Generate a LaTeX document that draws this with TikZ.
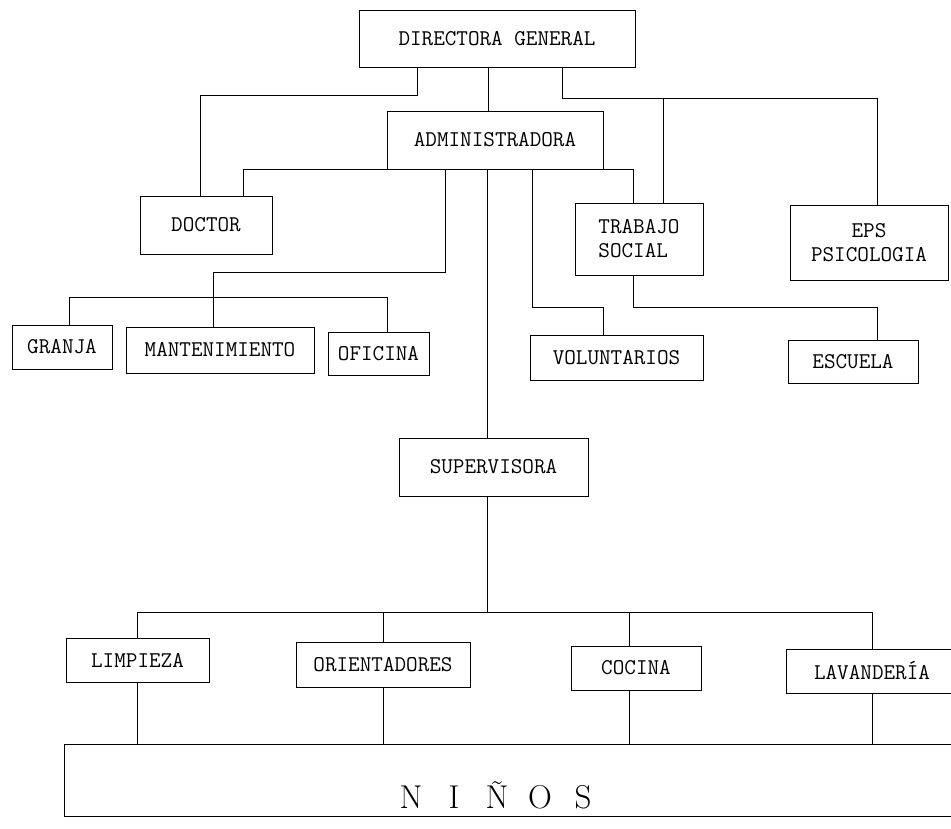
\documentclass[tikz,border=0pt]{standalone}
\newcommand{\boxfont}{\fontsize{22.5}{24}\selectfont\ttfamily}
\newcommand{\ninosfont}{\fontsize{33}{36}\selectfont}
\tikzset{
  box/.style={draw, line width=0.8pt, inner sep=0pt, font=\boxfont, align=center},
  link/.style={draw, line width=0.8pt},
}
\begin{document}
\begin{tikzpicture}[x=1pt, y=-1pt]
\useasboundingbox (0,0) rectangle (951,829);
\clip (0,0) rectangle (951,829);
\node (dir) at (497,38.5) [box, minimum width=276pt, minimum height=57pt] {DIRECTORA GENERAL};
\node (adm) at (495,140) [box, minimum width=216pt, minimum height=58pt] {ADMINISTRADORA};
\node (doc) at (206,225) [box, minimum width=132pt, minimum height=58pt] {DOCTOR};
\node (trab) at (639,239) [box, minimum width=128pt, minimum height=72pt, align=left] {TRABAJO\\SOCIAL};
\node (eps) at (869,242.5) [box, minimum width=158pt, minimum height=75pt] {EPS\\PSICOLOGIA};
\node (gra) at (62,347) [box, minimum width=100pt, minimum height=44pt] {GRANJA};
\node (mant) at (220,350) [box, minimum width=188pt, minimum height=46pt] {MANTENIMIENTO};
\node (ofi) at (378.5,353.5) [box, minimum width=101pt, minimum height=43pt] {OFICINA};
\node (vol) at (616.5,357.5) [box, minimum width=173pt, minimum height=45pt] {VOLUNTARIOS};
\node (esc) at (853,361.5) [box, minimum width=130pt, minimum height=43pt] {ESCUELA};
\node (sup) at (493.5,467) [box, minimum width=189pt, minimum height=58pt] {SUPERVISORA};
\node (lim) at (137.5,660) [box, minimum width=143pt, minimum height=44pt] {LIMPIEZA};
\node (ori) at (383,664.5) [box, minimum width=174pt, minimum height=45pt] {ORIENTADORES};
\node (coc) at (636,668) [box, minimum width=130pt, minimum height=44pt] {COCINA};
\node (lav) at (872,671) [box, minimum width=172pt, minimum height=44pt] {LAVANDERÍA};
\node (nin) at (511,780) [box, minimum width=894pt, minimum height=72pt,
  label={[font=\ninosfont, xshift=-14pt, yshift=-15pt]center:\makebox[43pt]{N}\makebox[43pt]{I}\makebox[43pt]{Ñ}\makebox[43pt]{O}\makebox[43pt]{S}}] {};
\coordinate (dirR) at ([xshift=65pt, yshift=-31pt]dir.south);
\coordinate (supbus) at ([xshift=-6.5pt, yshift=-116pt]sup.south);
\draw[link] ([xshift=-80pt]dir.south) -- ++(0,28) -| ([xshift=-6pt]doc.north);
\draw[link] ([xshift=-9pt]dir.south) -- ([xshift=-7pt]adm.north);
\draw[link] ([xshift=65pt]dir.south) -- (dirR) -| ([xshift=8pt]eps.north);
\draw[link] (dirR) -| ([xshift=24pt]trab.north);
\draw[link] (adm.south west) -| ([xshift=37pt]doc.north);
\draw[link] (adm.south east) -| ([xshift=-6pt]trab.north);
\draw[link] ([xshift=-50pt]adm.south) -- ++(0,103) -| ([xshift=-7pt]mant.north);
\draw[link] ([xshift=7pt]gra.north) -- ++(0,-27) -| ([xshift=8.5pt]ofi.north);
\draw[link] ([xshift=37pt]adm.south) -- ++(0,138) -| ([xshift=-13.5pt]vol.north);
\draw[link] ([xshift=-6pt]trab.south) -- ++(0,32) -| ([xshift=24pt]esc.north);
\draw[link] ([xshift=-8pt]adm.south) -- ([xshift=-6.5pt]sup.north);
\draw[link] ([xshift=-6.5pt]sup.south) -- (supbus);
\draw[link] (lim.north) |- (supbus) -| (lav.north);
\draw[link] (ori.north) -- (ori.north |- supbus);
\draw[link] ([xshift=-7pt]coc.north) -- ([xshift=-7pt]coc.north |- supbus);
\draw[link] (lim.south) -- (lim.south |- nin.north);
\draw[link] (ori.south) -- (ori.south |- nin.north);
\draw[link] ([xshift=-7pt]coc.south) -- ([xshift=-7pt]coc.south |- nin.north);
\draw[link] (lav.south) -- (lav.south |- nin.north);
\end{tikzpicture}
\end{document}
